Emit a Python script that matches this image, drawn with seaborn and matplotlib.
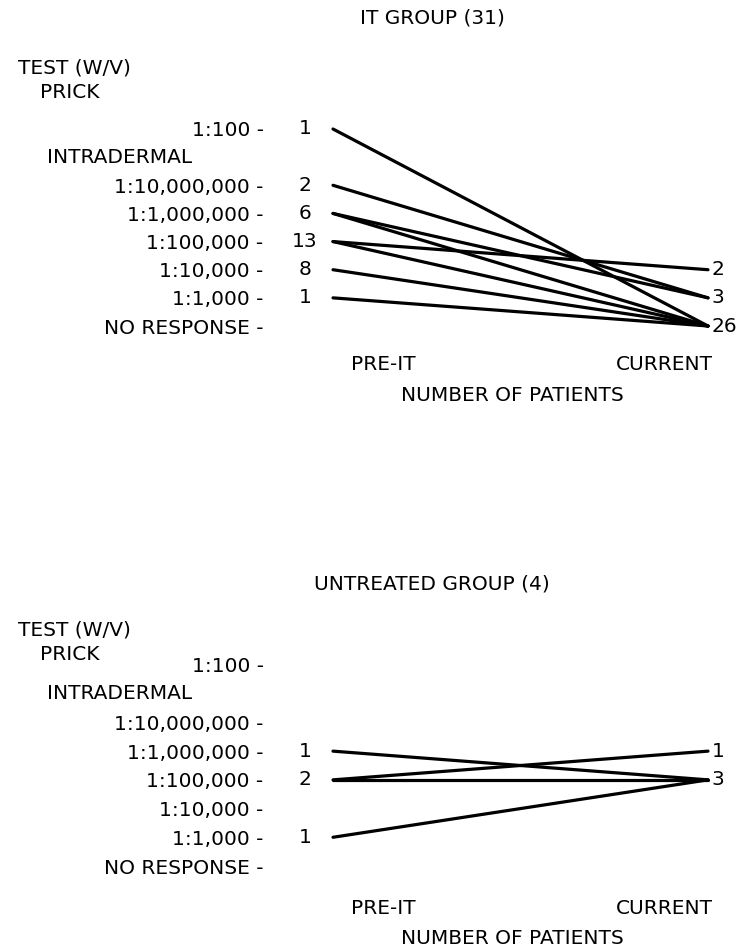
import matplotlib
matplotlib.use("Agg")
import matplotlib.pyplot as plt
import matplotlib.transforms as mtransforms
import pandas as pd
import seaborn as sns

# ------------------------------------------------------------
# Data
# ------------------------------------------------------------

rows = ["1:100", "INTRADERMAL", "1:10,000,000", "1:1,000,000",
        "1:100,000", "1:10,000", "1:1,000", "NO RESPONSE"]
levels = ["1:100", "1:10,000,000", "1:1,000,000", "1:100,000",
          "1:10,000", "1:1,000", "NO RESPONSE"]

# IT group (31)
it_pre_counts = {"1:100": 1, "1:10,000,000": 2, "1:1,000,000": 6,
                 "1:100,000": 13, "1:10,000": 8, "1:1,000": 1}
it_cur_counts = {"1:10,000": 2, "1:1,000": 3, "NO RESPONSE": 26}
it_from = ["1:100", "1:10,000,000", "1:1,000,000", "1:1,000,000",
           "1:100,000", "1:100,000", "1:10,000", "1:1,000"]
it_to = ["NO RESPONSE", "1:1,000", "1:1,000", "NO RESPONSE",
         "1:10,000", "NO RESPONSE", "NO RESPONSE", "NO RESPONSE"]

# Untreated group (4)
un_pre_counts = {"1:1,000,000": 1, "1:100,000": 2, "1:1,000": 1}
un_cur_counts = {"1:1,000,000": 1, "1:100,000": 3}
un_from = ["1:1,000,000", "1:100,000", "1:100,000", "1:1,000"]
un_to = ["1:100,000", "1:1,000,000", "1:100,000", "1:100,000"]

stages = ["PRE-IT", "CURRENT"]

W, H = 754, 951

sns.set_theme(style="white")
plt.rcParams["font.family"] = ["DejaVu Sans"]
plt.rcParams["text.color"] = "black"
plt.rcParams["ytick.color"] = "black"
plt.rcParams["ytick.labelcolor"] = "black"
FS = 14.5


def px(x, y):
    return x / W, 1 - y / H


def make_long(src, dst):
    recs = []
    for i, (a, b) in enumerate(zip(src, dst)):
        recs.append({"id": i, "stage": 0, "row": rows.index(a)})
        recs.append({"id": i, "stage": 1, "row": rows.index(b)})
    return pd.DataFrame(recs)


def panel(fig, top_px, bot_px, title, title_y, head_y, foot_y,
          src, dst, pre_counts, cur_counts):
    left, right = 333, 708
    ax = fig.add_axes([left / W, 1 - bot_px / H,
                       (right - left) / W, (bot_px - top_px) / H])

    df = make_long(src, dst)
    sns.lineplot(data=df, x="stage", y="row", units="id", estimator=None,
                 color="black", linewidth=2.3, ax=ax, legend=False)
    for ln in ax.lines:
        ln.set_clip_on(False)
        ln.set_solid_capstyle("round")

    ax.set_xlim(0, 1)
    ax.set_ylim(len(rows) - 1, 0)
    ticks = [rows.index(l) for l in levels]
    ax.set_yticks(ticks)
    ax.set_yticklabels([l + " -" for l in levels], fontsize=FS, color="black")
    ax.tick_params(axis="y", length=0, pad=50)
    ax.set_xticks([])
    ax.set_xlabel("")
    ax.set_ylabel("")
    sns.despine(ax=ax, left=True, bottom=True)

    # header row for intradermal tests
    blend = mtransforms.blended_transform_factory(fig.transFigure, ax.transData)
    ax.text(47 / W, rows.index("INTRADERMAL"), "INTRADERMAL",
            transform=blend, ha="left", va="center", fontsize=FS)

    # patient counts
    for lvl, n in pre_counts.items():
        ax.text(-0.075, rows.index(lvl), str(n), ha="center", va="center",
                fontsize=FS)
    for lvl, n in cur_counts.items():
        ax.text(1.01, rows.index(lvl), str(n), ha="left", va="center",
                fontsize=FS)

    fig.text(*px(432, title_y), title, ha="center", va="center", fontsize=FS)
    fig.text(*px(18, head_y), "TEST (W/V)", ha="left", va="center", fontsize=FS)
    fig.text(*px(40, head_y + 25), "PRICK", ha="left", va="center", fontsize=FS)
    fig.text(*px(383, foot_y), stages[0], ha="center", va="center", fontsize=FS)
    fig.text(*px(664, foot_y), stages[1], ha="center", va="center", fontsize=FS)
    fig.text(*px(512, foot_y + 31), "NUMBER OF PATIENTS", ha="center",
             va="center", fontsize=FS)
    return ax


fig = plt.figure(figsize=(W / 100, H / 100), dpi=100)
fig.patch.set_facecolor("white")

panel(fig, 129, 326, "IT GROUP (31)", 18, 68, 364,
      it_from, it_to, it_pre_counts, it_cur_counts)
panel(fig, 665, 866, "UNTREATED GROUP (4)", 584, 630, 908,
      un_from, un_to, un_pre_counts, un_cur_counts)

fig.savefig("out.png", dpi=100, facecolor="white")
